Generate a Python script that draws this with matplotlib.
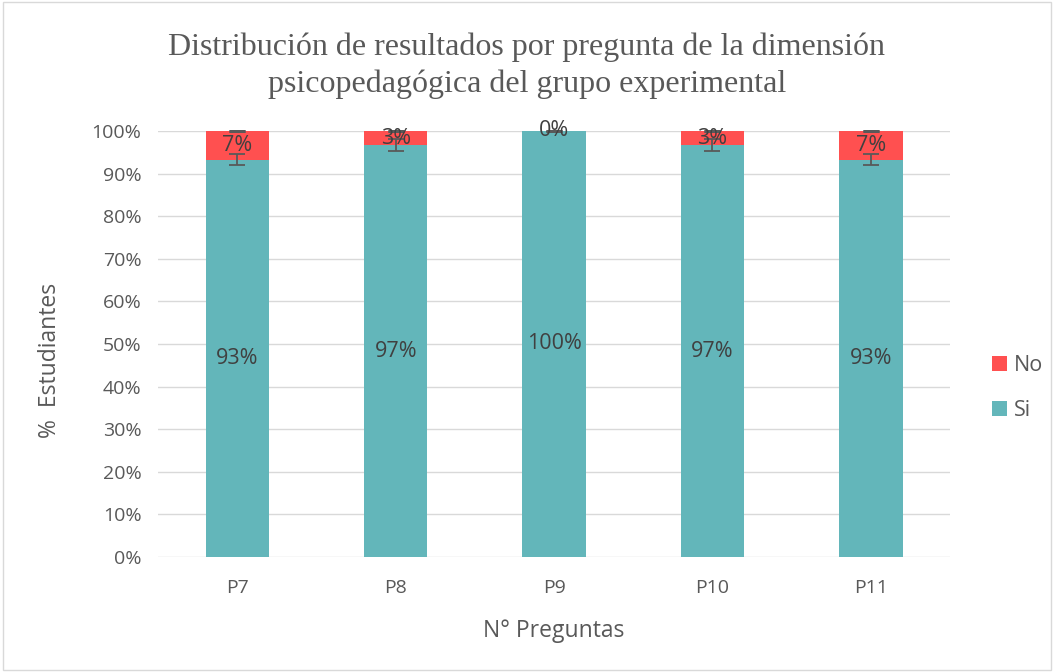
import matplotlib as mpl
import matplotlib.pyplot as plt
from matplotlib.patches import Rectangle

mpl.rcParams.update({
    "font.family": ["Open Sans", "DejaVu Sans"],
    "font.size": 12,
    "text.color": "#404040",
})

# ----- data (percent of students) -----
preguntas = ["P7", "P8", "P9", "P10", "P11"]
si_vals = [93.3, 96.7, 100.0, 96.7, 93.3]
no_vals = [6.7, 3.3, 0.0, 3.3, 6.7]
si_err = [1.4, 1.4, 0.0, 1.4, 1.4]
no_err = [0.0, 0.0, 0.0, 0.0, 0.0]

c_si = "#63B6BA"
c_no = "#FF5050"
grey = "#595959"

fig = plt.figure(figsize=(10.54, 6.72), dpi=100)
ax = fig.add_axes([0.15, 0.1711, 0.7514, 0.634])

x = list(range(len(preguntas)))
w = 0.4
ax.bar(x, si_vals, w, color=c_si, label="Si", zorder=2)
ax.bar(x, no_vals, w, bottom=si_vals, color=c_no, label="No", zorder=2)

ax.errorbar(x, si_vals, yerr=si_err, fmt="none", ecolor=grey, elinewidth=1.3,
            capsize=6, capthick=1.3, zorder=3)
tops = [s + n for s, n in zip(si_vals, no_vals)]
ax.errorbar(x, tops, yerr=no_err, fmt="none", ecolor=grey, elinewidth=1.3,
            capsize=6, capthick=2.0, zorder=3, clip_on=False)

# data labels
for xi, s, n in zip(x, si_vals, no_vals):
    ax.text(xi, s / 2, f"{s:.0f}%", ha="center", va="center", fontsize=15.5,
            color="#404040", zorder=4)
    ax.text(xi, s + n / 2, f"{n:.0f}%", ha="center", va="center", fontsize=15.5,
            color="#404040", zorder=4)

ax.set_xlim(-0.5, len(preguntas) - 0.5)
ax.set_ylim(0, 100)
ax.set_yticks(range(0, 101, 10))
ax.set_yticklabels([f"{v}%" for v in range(0, 101, 10)])
ax.set_xticks(x)
ax.set_xticklabels(preguntas)
ax.tick_params(length=0, labelsize=14, labelcolor=grey, pad=12)
ax.tick_params(axis="x", pad=16)
for sp in ax.spines.values():
    sp.set_visible(False)
ax.grid(axis="y", color="#D9D9D9", lw=1.0, zorder=0)
ax.set_axisbelow(True)

ax.set_ylabel("%  Estudiantes", fontsize=16.5, color=grey)
ax.yaxis.set_label_coords(-0.121, 0.462)
ax.set_xlabel("N° Preguntas", fontsize=16.5, color=grey)
ax.xaxis.set_label_coords(0.5, -0.146)

fig.suptitle("Distribución de resultados por pregunta de la dimensión\n"
             "psicopedagógica del grupo experimental",
             family="Liberation Serif", fontsize=23, color=grey, y=0.952,
             linespacing=1.36)

handles, labels = ax.get_legend_handles_labels()
ax.legend(handles[::-1], labels[::-1], loc="center left",
          bbox_to_anchor=(1.028, 0.397), frameon=False, fontsize=15.5,
          handlelength=0.7, handleheight=0.7, labelspacing=1.1,
          handletextpad=0.35, labelcolor=grey)

fig.patches.append(Rectangle((0.003, 0.003), 0.994, 0.994, transform=fig.transFigure,
                             fill=False, edgecolor="#D9D9D9", lw=1.0))

fig.savefig("out.png", dpi=100)
